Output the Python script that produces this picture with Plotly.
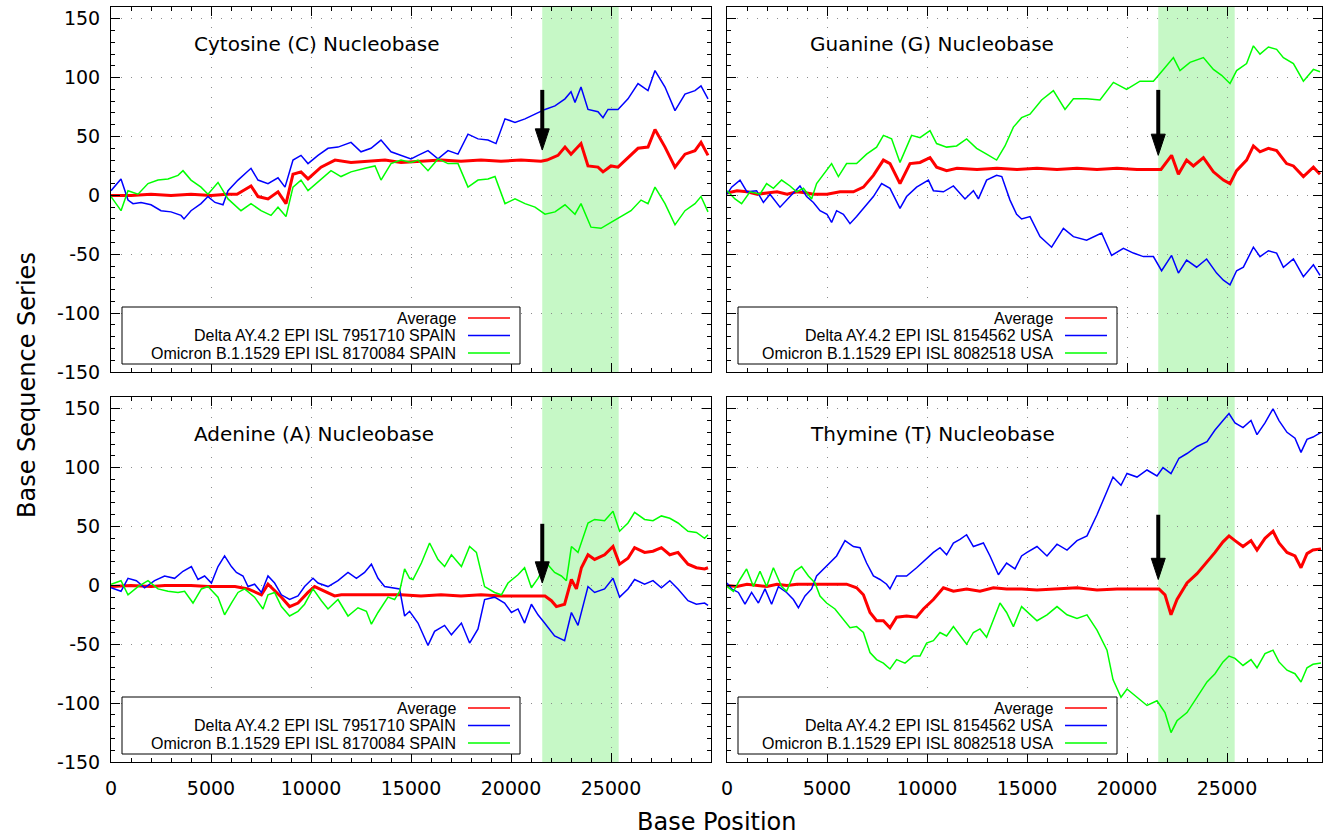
import plotly.graph_objects as go

# ---------------- data ----------------
X_TICKS = [0, 5000, 10000, 15000, 20000, 25000]
Y_TICKS = [-150, -100, -50, 0, 50, 100, 150]
SPIKE = [21563, 25384]

TITLES = ["Cytosine (C) Nucleobase", "Guanine (G) Nucleobase",
          "Adenine (A) Nucleobase", "Thymine (T) Nucleobase"]
LEG_LEFT = ["Average", "Delta AY.4.2 EPI ISL 7951710 SPAIN", "Omicron B.1.1529 EPI ISL 8170084 SPAIN"]
LEG_RIGHT = ["Average", "Delta AY.4.2 EPI ISL 8154562 USA", "Omicron B.1.1529 EPI ISL 8082518 USA"]

# Cytosine
C_AVG_X = [0, 1000, 2000, 3000, 4000, 5000, 5800, 6300, 7000, 7350, 7850, 8350, 8750, 9100, 9500, 9850, 10500, 11200, 12000, 13000,
           13700, 14500, 15500, 16500, 17500, 18500, 19500, 20500, 21500, 21800, 22350, 22700, 23000, 23500, 23850, 24350, 24600, 25000, 25350, 25850,
           26350, 26850, 27200, 27700, 28200, 28700, 29200, 29500, 29850]
C_AVG_Y = [0, 0, 1, 0, 1, 0, 1, 1, 8, -1, -3, 3, -7, 18, 20, 14, 24, 30, 28, 29,
           30, 28, 29, 30, 29, 30, 29, 30, 29, 30, 34, 41, 35, 44, 25, 24, 20, 25, 24, 32,
           40, 41, 56, 41, 24, 35, 38, 45, 34]
C_DELTA_X = [0, 500, 850, 1100, 1500, 2000, 2500, 3000, 3500, 3650, 4000, 4500, 4850, 5200, 5600, 5850, 6350, 7000, 7350, 7850,
             8350, 8700, 9100, 9500, 9850, 10350, 10850, 11350, 12000, 12500, 13000, 13500, 14000, 14500, 15000, 15350, 15850, 16350, 16850, 17350,
             17850, 18350, 18850, 19250, 19700, 20200, 20700, 21200, 21700, 22200, 22700, 23000, 23200, 23500, 23850, 24350, 24600, 24850, 25350, 25850,
             26350, 26850, 27200, 27700, 28200, 28700, 29200, 29500, 29850]
C_DELTA_Y = [4, 14, -4, -7, -6, -8, -13, -14, -17, -20, -13, -7, -1, -6, -8, 4, 13, 23, 13, 10,
             15, 7, 30, 34, 27, 34, 40, 41, 45, 37, 40, 47, 37, 34, 31, 34, 38, 31, 38, 35,
             52, 48, 47, 44, 65, 62, 65, 69, 73, 76, 82, 88, 79, 92, 73, 71, 66, 73, 73, 82,
             95, 89, 106, 92, 72, 86, 89, 93, 82]
C_OMI_X = [0, 500, 850, 1350, 1850, 2350, 2850, 3350, 3600, 4000, 4500, 4850, 5350, 5850, 6500, 7000, 7500, 8000, 8350, 8750,
           9100, 9500, 9850, 10500, 11000, 11500, 12000, 12700, 13200, 13500, 14000, 14500, 15000, 15350, 15850, 16350, 16850, 17350, 17850, 18350,
           18850, 19200, 19700, 20200, 20700, 21200, 21700, 22200, 22700, 23200, 23500, 24000, 24500, 25000, 25500, 26000, 26500, 26850, 27200, 27700,
           28200, 28700, 29200, 29500, 29850]
C_OMI_Y = [-1, -13, 4, 1, 10, 13, 14, 17, 21, 13, 7, 1, 11, -3, -13, -7, -13, -17, -10, -18,
           7, 13, 4, 14, 21, 16, 20, 23, 25, 13, 27, 30, 28, 30, 21, 31, 27, 27, 7, 13,
           14, 16, -7, -3, -7, -10, -16, -14, -8, -16, -7, -27, -28, -23, -18, -13, -4, -7, 7, -7,
           -25, -13, -7, -1, -14]

# Guanine
G_AVG_X = [0, 500, 1000, 1500, 2000, 2500, 3000, 3500, 4000, 4320, 5000, 5650, 6320, 6820, 7320, 7820, 8150, 8650, 9150, 9650,
           10150, 10480, 10980, 11500, 12500, 13500, 14500, 15500, 16500, 17500, 18500, 19500, 20500, 21700, 22230, 22570, 22980, 23320, 23820, 24320,
           24820, 25150, 25480, 25980, 26320, 26650, 27070, 27480, 27980, 28320, 28820, 29320, 29650]
G_AVG_Y = [2, 4, 3, 1, 2, 3, 1, 3, 2, 1, 1, 3, 3, 7, 17, 30, 27, 10, 27, 28,
           32, 24, 21, 23, 22, 23, 22, 23, 22, 23, 22, 23, 22, 22, 34, 18, 30, 25, 32, 20,
           13, 10, 21, 30, 42, 37, 40, 38, 27, 25, 16, 24, 18]
G_DELTA_X = [0, 230, 650, 1000, 1480, 1820, 2150, 2650, 3150, 3650, 3980, 4320, 4650, 5000, 5230, 5480, 5820, 6150, 6480, 6980,
             7320, 7730, 8150, 8650, 8980, 9480, 10070, 10320, 10820, 11320, 11900, 12320, 12570, 12980, 13480, 13740, 14150, 14480, 14730, 15150,
             15650, 16230, 16820, 17320, 17980, 18730, 19230, 19820, 20320, 20820, 21320, 21730, 22230, 22570, 22980, 23480, 23980, 24480, 24820, 25150,
             25480, 25820, 26320, 26650, 27070, 27480, 27820, 28320, 28820, 29320, 29650]
G_DELTA_Y = [1, 7, 13, 3, 4, -6, 1, -10, -1, 8, -1, -6, -13, -16, -23, -13, -16, -24, -18, -8,
             -1, 10, 6, -11, -1, 7, 13, 4, 3, 8, -3, 4, -3, 13, 17, 16, -4, -16, -20, -18,
             -35, -44, -28, -35, -38, -32, -51, -45, -49, -52, -52, -64, -51, -66, -55, -61, -54, -66, -72, -76,
             -64, -61, -44, -52, -47, -49, -61, -54, -69, -59, -68]
G_OMI_X = [0, 400, 730, 1150, 1650, 1980, 2320, 2730, 3150, 3480, 3820, 4230, 4480, 4820, 5230, 5570, 5980, 6480, 6980, 7480,
           7820, 8230, 8650, 9230, 9650, 10150, 10480, 10980, 11480, 11980, 12480, 12980, 13480, 13900, 14320, 14730, 15150, 15730, 16320, 16900,
           17320, 17980, 18650, 19320, 19980, 20650, 21320, 21820, 22320, 22650, 23150, 23820, 24320, 24730, 25150, 25480, 25980, 26320, 26650, 27070,
           27480, 27820, 28320, 28820, 29320, 29650]
G_OMI_Y = [4, -3, -7, 3, 1, 10, 6, 13, 8, 3, 6, -3, 10, 18, 27, 16, 27, 27, 35, 41,
           51, 48, 28, 51, 49, 55, 44, 41, 42, 48, 40, 35, 30, 42, 58, 66, 69, 81, 89, 73,
           82, 82, 81, 96, 90, 97, 97, 107, 117, 106, 113, 117, 107, 102, 95, 106, 112, 127, 120, 126,
           124, 117, 112, 97, 107, 105]

# Adenine
A_AVG_X = [0, 1000, 2000, 2700, 4000, 4850, 6200, 6850, 7520, 7850, 8520, 8930, 9350, 9850, 10180, 10680, 11180, 11520, 12500, 13500,
           14500, 15500, 16500, 17500, 18500, 19500, 20500, 21700, 22020, 22270, 22680, 23020, 23270, 23520, 23850, 24180, 24680, 25100, 25430, 25850,
           26180, 26680, 27100, 27520, 27940, 28350, 28850, 29270, 29680, 29850]
A_AVG_Y = [-1, 0, -1, 0, 0, -1, -1, -3, -8, 1, -10, -18, -15, -6, -1, -5, -9, -8, -8, -8,
           -8, -9, -8, -9, -8, -9, -9, -9, -13, -18, -16, 5, -3, 15, 26, 22, 26, 33, 18, 23,
           32, 28, 29, 32, 26, 28, 18, 15, 14, 15]
A_DELTA_X = [0, 500, 850, 1270, 1680, 2180, 2680, 3180, 3600, 4020, 4350, 4680, 5020, 5350, 5680, 6020, 6270, 6600, 6850, 7180,
             7520, 7850, 8180, 8520, 8930, 9350, 9680, 10100, 10350, 10850, 11350, 11850, 12270, 12680, 13020, 13350, 13680, 14180, 14430, 14680,
             14930, 15350, 15850, 16180, 16680, 17020, 17520, 17930, 18350, 18680, 19180, 19680, 20020, 20350, 20680, 21020, 21350, 21680, 22180, 22680,
             23020, 23350, 23850, 24180, 24680, 25100, 25430, 25850, 26180, 26680, 27100, 27520, 27940, 28350, 28850, 29270, 29680, 29850]
A_DELTA_Y = [-2, -5, 6, 4, -2, 4, 8, 6, 12, 16, 5, 8, 2, 16, 25, 16, 11, 8, -1, 1,
             -6, 8, 2, -8, -12, -9, -1, 6, 2, -1, 4, 11, 6, 11, 18, 6, -1, -2, -3, -26,
             -22, -32, -51, -39, -34, -42, -32, -49, -37, -12, -10, -15, -23, -20, -32, -16, -25, -32, -43, -47,
             -23, -34, -1, -6, -3, 6, -10, -3, 5, 1, 4, -2, 4, -3, -13, -16, -15, -17]
A_OMI_X = [0, 500, 850, 1350, 1850, 2350, 2850, 3350, 3680, 4100, 4520, 4850, 5350, 5680, 6020, 6350, 6680, 7180, 7600, 7850,
           8180, 8520, 8930, 9350, 9680, 10100, 10520, 10850, 11350, 11850, 12350, 12770, 13020, 13350, 13850, 14180, 14430, 14680, 14930, 15100,
           15520, 15930, 16350, 16680, 17020, 17520, 17930, 18270, 18680, 19180, 19520, 19850, 20350, 20680, 21020, 21350, 21770, 22180, 22520, 22770,
           23020, 23350, 23850, 24180, 24680, 25100, 25430, 25850, 26180, 26680, 27100, 27520, 27940, 28350, 28850, 29270, 29680, 29850]
A_OMI_Y = [1, 4, -8, -1, 4, -3, -5, -6, -5, -15, -3, -1, -10, -25, -15, -6, -3, -10, -20, -8,
           -6, -18, -26, -22, -16, -3, -13, -20, -12, -26, -19, -22, -33, -23, -10, -12, -5, 14, 6, 5,
           19, 36, 22, 16, 26, 16, 33, 28, -1, -6, -8, 2, 9, 15, -2, 6, 19, 11, 8, 4,
           33, 28, 53, 56, 55, 63, 46, 53, 62, 56, 55, 59, 57, 53, 46, 45, 40, 43]

# Thymine
T_AVG_X = [0, 500, 1000, 1500, 2000, 2500, 3000, 3500, 4000, 4650, 5320, 5980, 6480, 6820, 7150, 7480, 7820, 8150, 8480, 8980,
           9480, 9820, 10320, 10820, 11320, 11980, 12650, 13320, 13980, 14730, 15500, 16500, 17500, 18500, 19500, 20500, 21600, 21900, 22200, 22500,
           23000, 23500, 24000, 24400, 24800, 25100, 25400, 25800, 26200, 26500, 26900, 27300, 27600, 28000, 28400, 28700, 29000, 29300, 29700]
T_AVG_Y = [0, -1, 1, 0, -1, 1, 0, 1, 1, 1, 1, 1, -2, -8, -23, -30, -30, -36, -27, -26,
           -27, -20, -12, -2, -5, -3, -5, -2, -3, -3, -4, -3, -2, -4, -3, -3, -3, -8, -25, -12,
           2, 10, 20, 28, 37, 42, 38, 33, 38, 30, 40, 46, 36, 28, 25, 15, 27, 30, 31]
T_DELTA_X = [0, 230, 570, 900, 1230, 1570, 1900, 2230, 2570, 2980, 3320, 3570, 3900, 4230, 4480, 4820, 5150, 5480, 5900, 6320,
             6650, 6980, 7320, 7650, 7980, 8150, 8480, 8980, 9480, 9980, 10320, 10650, 10980, 11320, 11650, 11980, 12320, 12820, 13150, 13570,
             13980, 14400, 14730, 15000, 15500, 16000, 16500, 17000, 17500, 18000, 18500, 19000, 19300, 19700, 20000, 20500, 21000, 21500, 21800, 22200,
             22600, 23000, 23500, 24000, 24400, 24800, 25100, 25400, 25800, 26200, 26500, 26900, 27300, 27600, 28000, 28400, 28700, 29000, 29300, 29700]
T_DELTA_Y = [2, -3, -6, -16, -6, -15, -3, -16, -1, -6, -12, -19, -9, -3, 8, 14, 19, 25, 38, 33,
             32, 19, 8, 5, 1, -3, 8, 8, 15, 23, 28, 32, 26, 36, 39, 43, 33, 36, 25, 9,
             19, 14, 25, 28, 33, 25, 35, 30, 38, 42, 60, 80, 92, 85, 95, 92, 98, 93, 100, 95,
             108, 112, 118, 122, 132, 140, 146, 138, 134, 140, 128, 138, 150, 140, 130, 125, 113, 124, 126, 130]
T_OMI_X = [0, 320, 650, 980, 1320, 1650, 1980, 2320, 2730, 2980, 3400, 3730, 4070, 4400, 4650, 4980, 5400, 5820, 6150, 6480,
           6820, 7150, 7480, 7820, 8150, 8480, 8900, 9320, 9650, 9980, 10320, 10650, 10980, 11320, 11650, 11980, 12320, 12650, 12980, 13320,
           13650, 13980, 14320, 14730, 15000, 15500, 16000, 16500, 17000, 17500, 18000, 18500, 19000, 19300, 19700, 20000, 20500, 21000, 21500, 21900,
           22200, 22500, 23000, 23500, 24000, 24400, 24800, 25100, 25400, 25800, 26200, 26500, 26900, 27300, 27600, 28000, 28400, 28700, 29000, 29300,
           29700]
T_OMI_Y = [-1, -5, 5, 14, -1, 12, -1, 15, -1, -5, 12, 16, 8, 2, -9, -15, -20, -29, -36, -35,
           -40, -57, -63, -66, -71, -63, -66, -60, -60, -49, -47, -40, -43, -35, -43, -50, -40, -37, -44, -29,
           -15, -23, -35, -18, -22, -30, -25, -18, -25, -28, -25, -38, -55, -80, -95, -88, -95, -102, -98, -108,
           -125, -115, -108, -95, -82, -75, -65, -60, -62, -68, -63, -70, -58, -55, -65, -72, -75, -82, -70, -67,
           -66]

# arrows: (tail value, tip value) per panel, at the spike start
ARROWS = [(89.6, 38.5), (89.6, 34.0), (52.3, 2.0), (60.0, 5.0)]

# ---------------- layout helpers ----------------
W, H = 1329, 835
def clamp(v): return min(1.0, max(0.0, v))
def px(x): return clamp(x / W)
def py(y): return clamp(1 - y / H)

RED, BLUE, GREEN = "#ff0000", "#0000ff", "#00ff00"
TICK_FONT = dict(family="DejaVu Sans", size=19, color="black")

# panel pixel boxes: (left, right, top, bottom)
BOXES = [(111, 711, 7, 372), (727, 1322, 7, 372), (111, 711, 397, 762), (727, 1322, 397, 762)]
XRANGES = [[0, 30000], [0, 29750], [0, 30000], [0, 29750]]
YRANGE = [-150, 160]

SERIES = [
    ((C_AVG_X, C_AVG_Y), (C_DELTA_X, C_DELTA_Y), (C_OMI_X, C_OMI_Y)),
    ((G_AVG_X, G_AVG_Y), (G_DELTA_X, G_DELTA_Y), (G_OMI_X, G_OMI_Y)),
    ((A_AVG_X, A_AVG_Y), (A_DELTA_X, A_DELTA_Y), (A_OMI_X, A_OMI_Y)),
    ((T_AVG_X, T_AVG_Y), (T_DELTA_X, T_DELTA_Y), (T_OMI_X, T_OMI_Y)),
]
for s in SERIES:
    for xs, ys in s:
        assert len(xs) == len(ys), (len(xs), len(ys))

fig = go.Figure()
layout = dict(width=W, height=H, autosize=False, margin=dict(l=0, r=0, t=0, b=0, pad=0),
              paper_bgcolor="white", plot_bgcolor="white", showlegend=False, hovermode=False)
shapes, annotations = [], []

for i in range(4):
    n = "" if i == 0 else str(i + 1)
    xref, yref = "x" + n, "y" + n
    l, r, t, b = BOXES[i]
    left_col = i in (0, 2)
    bottom_row = i in (2, 3)
    common = dict(ticks="inside", ticklen=9, tickwidth=1, tickcolor="black",
                  showline=True, linecolor="black", linewidth=1, mirror="allticks",
                  showgrid=True, gridcolor="#8c8c8c", gridwidth=1, griddash="1px,9px",
                  zeroline=False, tickfont=TICK_FONT, fixedrange=True, automargin=False,
                  ticklabeloverflow="allow")
    layout["xaxis" + n] = dict(domain=[px(l), px(r)], range=XRANGES[i], anchor=yref,
                               tickmode="array", tickvals=X_TICKS, ticktext=[str(v) for v in X_TICKS],
                               showticklabels=bottom_row, ticklabelstandoff=9,
                               minor=dict(ticks="inside", ticklen=4, tickcolor="black",
                                          tickmode="linear", tick0=0, dtick=1000, showgrid=False),
                               **common)
    layout["yaxis" + n] = dict(domain=[py(b), py(t)], range=YRANGE, anchor=xref,
                               tickmode="array", tickvals=Y_TICKS, ticktext=[str(v) for v in Y_TICKS],
                               showticklabels=left_col, ticklabelstandoff=6,
                               minor=dict(ticks="inside", ticklen=4, tickcolor="black",
                                          tickmode="linear", tick0=0, dtick=10, showgrid=False),
                               **common)

    # spike region shading
    shapes.append(dict(type="rect", xref=xref, yref=yref + " domain", x0=SPIKE[0], x1=SPIKE[1],
                       y0=0, y1=1, fillcolor="#c6f8c6", line=dict(width=0), layer="below"))

    (ax, ay), (dx, dy), (ox, oy) = SERIES[i]
    fig.add_trace(go.Scatter(x=ax, y=ay, mode="lines", line=dict(color=RED, width=3),
                             xaxis=xref, yaxis=yref, name="Average", hoverinfo="skip"))
    fig.add_trace(go.Scatter(x=dx, y=dy, mode="lines", line=dict(color=BLUE, width=1.5),
                             xaxis=xref, yaxis=yref, name="Delta", hoverinfo="skip"))
    fig.add_trace(go.Scatter(x=ox, y=oy, mode="lines", line=dict(color=GREEN, width=1.5),
                             xaxis=xref, yaxis=yref, name="Omicron", hoverinfo="skip"))

    # arrow (shaft + filled head)
    tail, tip = ARROWS[i]
    head_len, half_w = 18.0, 350
    xa = SPIKE[0]
    shapes.append(dict(type="line", xref=xref, yref=yref, x0=xa, x1=xa, y0=tail, y1=tip + head_len - 1,
                       line=dict(color="black", width=4)))
    shapes.append(dict(type="path", xref=xref, yref=yref,
                       path=f"M {xa - half_w},{tip + head_len} L {xa + half_w},{tip + head_len} L {xa},{tip} Z",
                       fillcolor="black", line=dict(color="black", width=1)))

    # panel title
    annotations.append(dict(text=TITLES[i], xref="paper", yref="paper", x=px(l + 81), y=py(t + 37),
                            xanchor="left", yanchor="middle", showarrow=False,
                            font=dict(family="DejaVu Sans", size=20, color="black")))

    # key box (gnuplot style: text right aligned, sample on the right)
    labels = LEG_LEFT if left_col else LEG_RIGHT
    box_l = l + 11
    box_r = l + (409 if left_col else 390)
    box_t, box_b = t + 300, t + 357
    shapes.append(dict(type="rect", xref="paper", yref="paper", x0=px(box_l), x1=px(box_r),
                       y0=py(box_b), y1=py(box_t), line=dict(color="black", width=1),
                       fillcolor="white"))
    for k, (lab, col) in enumerate(zip(labels, [RED, BLUE, GREEN])):
        yy = box_t + 11 + k * 17.5
        annotations.append(dict(text=lab, xref="paper", yref="paper", x=px(box_r - 62), y=py(yy),
                                xanchor="right", yanchor="middle", showarrow=False,
                                font=dict(family="Liberation Sans", size=16, color="black")))
        shapes.append(dict(type="line", xref="paper", yref="paper", x0=px(box_r - 52), x1=px(box_r - 10),
                           y0=py(yy), y1=py(yy), line=dict(color=col, width=1.5)))

annotations.append(dict(text="Base Position", xref="paper", yref="paper", x=px(717), y=py(822),
                        xanchor="center", yanchor="middle", showarrow=False,
                        font=dict(family="DejaVu Sans", size=24, color="black")))
annotations.append(dict(text="Base Sequence Series", xref="paper", yref="paper", x=px(27), y=py(385),
                        xanchor="center", yanchor="middle", showarrow=False, textangle=-90,
                        font=dict(family="DejaVu Sans", size=24, color="black")))

layout["shapes"] = shapes
layout["annotations"] = annotations
fig.update_layout(**layout)
# place the fixed-size figure flush with the page corner (no default body margin), no mode bar
fig.write_html("out.html", config={"displayModeBar": False, "staticPlot": True},
               post_script="document.body.style.margin='0px';")
